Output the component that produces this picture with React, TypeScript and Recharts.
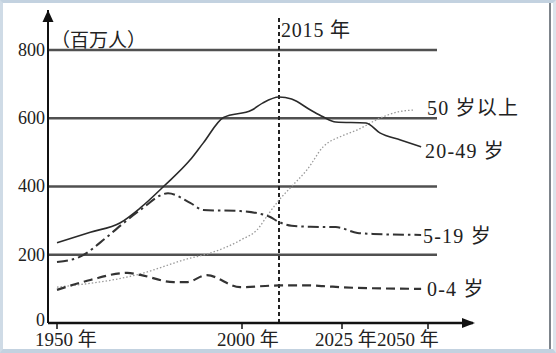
import React from "react";
import { LineChart, Line, XAxis, YAxis, ReferenceLine, ReferenceDot } from "recharts";

// 人口（百万人），按年份
const tickYears = [1950, 2000, 2025, 2050];
const tickLabels = ["1950 年", "2000 年", "2025 年", "2050 年"];
const yTicks = [0, 200, 400, 600, 800];
const gridValues = [200, 400, 600, 800];
const markYear = 2015;
const markLabel = "2015 年";
const unitLabel = "（百万人）";

const years2049 = [1950, 1959, 1967, 1972.5, 1979, 1986, 1989.5, 1995, 2004, 2008.5, 2015, 2017, 2020, 2022, 2024, 2032, 2036, 2042, 2048];
const vals2049 = [235, 266, 293, 337, 402, 478, 527, 602, 624, 645, 662, 656, 624, 604, 589, 586, 557, 536, 516];

const years50 = [1950, 1971.5, 1986, 1990.5, 2000, 2006, 2011, 2015, 2017, 2019.5, 2022, 2025, 2029.5, 2036, 2041, 2046];
const vals50 = [105, 141, 190, 202, 245, 272, 322, 360, 400, 450, 516, 548, 566, 600, 618, 624];

const years519 = [1950, 1956, 1963.5, 1968, 1972.5, 1980, 1986, 1989.5, 1999.5, 2006, 2011, 2015, 2017, 2020, 2024, 2029.5, 2034, 2048];
const vals519 = [179, 193, 252, 293, 331, 380, 352, 331, 328, 322, 312, 296, 285, 282, 281, 264, 261, 258];

const years04 = [1950, 1959, 1969, 1972.5, 1981.5, 1985, 1990.5, 1999.5, 2015, 2020, 2022, 2029, 2048];
const vals04 = [97, 126, 147, 141, 120, 120, 140, 105, 110, 110, 108, 103, 100];

// the printed time axis is not to scale: anchor years -> axis units
const warpYears = [1950, 2000, 2015, 2025, 2050];
const warpUnits = [0, 185, 222, 285, 371];
function warp(year: number) {
  for (let i = 0; i < warpYears.length - 1; i++) {
    const a = warpYears[i], b = warpYears[i + 1];
    if (year <= b || i === warpYears.length - 2) {
      return warpUnits[i] + ((year - a) / (b - a)) * (warpUnits[i + 1] - warpUnits[i]);
    }
  }
  return 0;
}

const build = (ys: number[], vs: number[]) => ys.map((y, i) => ({ x: warp(y), v: vs[i] }));
const s2049 = build(years2049, vals2049);
const s50 = build(years50, vals50);
const s519 = build(years519, vals519);
const s04 = build(years04, vals04);
const xTicks = tickYears.map(warp);

const FONT = "'Liberation Serif', 'Noto Sans CJK SC', serif";
const tickShift = [-22, -25, -27, -51];

function XTick(props: any) {
  const { x, y, payload } = props;
  const i = xTicks.indexOf(payload.value);
  return (
    <text x={x + tickShift[i]} y={y} dy={15} fontSize={19} fill="#222" fontFamily={FONT}>
      {tickLabels[i]}
    </text>
  );
}

function YTick(props: any) {
  const { x, y, payload } = props;
  return (
    <text x={x} y={y} dy={payload.value === 0 ? 3 : 6} textAnchor="end" fontSize={18} fill="#222" fontFamily={FONT}>
      {payload.value}
    </text>
  );
}

const upArrow = (p: any) => <path d={`M${p.cx},${p.cy} L${p.cx - 5.5},${p.cy + 12} L${p.cx + 5.5},${p.cy + 12} Z`} fill="#111" />;
const rightArrow = (p: any) => <path d={`M${p.cx + 2},${p.cy} L${p.cx - 11},${p.cy - 5} L${p.cx - 11},${p.cy + 5} Z`} fill="#111" />;

const labelStyle = { fontSize: 20, fill: "#222", fontFamily: FONT, letterSpacing: 1.2 } as const;

export default function App() {
  return (
    <div style={{ position: "relative", width: 556, height: 353, background: "#fff" }}>
      <style>{"body{margin:0}"}</style>
      <LineChart width={556} height={353} margin={{ top: 10, right: 83, bottom: 0, left: 0 }}>
        <XAxis
          type="number"
          dataKey="x"
          domain={[-9, 416]}
          ticks={xTicks}
          interval={0}
          height={30}
          tick={<XTick />}
          tickSize={6}
          tickLine={{ stroke: "#111", strokeWidth: 1.5 }}
          axisLine={{ stroke: "#111", strokeWidth: 2.5 }}
          allowDataOverflow
        />
        <YAxis
          type="number"
          domain={[0, 917]}
          ticks={yTicks}
          width={48}
          tickSize={0}
          tickMargin={3}
          tickLine={false}
          tick={<YTick />}
          axisLine={{ stroke: "#111", strokeWidth: 2 }}
          allowDataOverflow
        />
        {gridValues.map((g) => (
          <ReferenceLine
            key={g}
            segment={[{ x: -9, y: g }, { x: 380, y: g }]}
            stroke="#505050"
            strokeWidth={2.5}
          />
        ))}
        <ReferenceLine
          segment={[{ x: warp(markYear), y: 0 }, { x: warp(markYear), y: 894 }]}
          stroke="#222"
          strokeWidth={2}
          strokeDasharray="4 3"
        />
        <Line data={s50} dataKey="v" type="monotone" stroke="#9a9a9a" strokeWidth={1.3} strokeDasharray="1.5 2" dot={false} isAnimationActive={false} />
        <Line data={s04} dataKey="v" type="monotone" stroke="#333" strokeWidth={2.2} strokeDasharray="9 5" dot={false} isAnimationActive={false} />
        <Line data={s519} dataKey="v" type="monotone" stroke="#333" strokeWidth={2} strokeDasharray="11 4 2.5 4" dot={false} isAnimationActive={false} />
        <Line data={s2049} dataKey="v" type="monotone" stroke="#2a2a2a" strokeWidth={1.6} dot={false} isAnimationActive={false} />
        <ReferenceDot x={-9} y={917} r={0} shape={upArrow} ifOverflow="visible" />
        <ReferenceDot x={416} y={0} r={0} shape={rightArrow} ifOverflow="visible" />
      </LineChart>
      <svg width={556} height={353} style={{ position: "absolute", left: 0, top: 0, pointerEvents: "none" }}>
        <text x={51} y={47} fontSize={19} fill="#222" fontFamily="'Noto Sans CJK SC', sans-serif">{unitLabel}</text>
        <text x={281} y={37} {...labelStyle} letterSpacing={0.8}>{markLabel}</text>
        <text x={427} y={115} {...labelStyle}>50 岁以上</text>
        <text x={425} y={158} {...labelStyle}>20-49 岁</text>
        <text x={423} y={243} {...labelStyle}>5-19 岁</text>
        <text x={427} y={296} {...labelStyle}>0-4 岁</text>
      </svg>
      <div
        style={{
          position: "absolute",
          inset: 0,
          boxSizing: "border-box",
          borderTop: "3px solid #c3d2e0",
          borderLeft: "3px solid #cfdbe6",
          borderBottom: "4px solid #c3d2e0",
          borderRight: "3px solid #dde5ec",
          pointerEvents: "none",
        }}
      />
      <div style={{ position: "absolute", left: 549, top: 3, width: 2, height: 346, background: "#7d848b" }} />
    </div>
  );
}
